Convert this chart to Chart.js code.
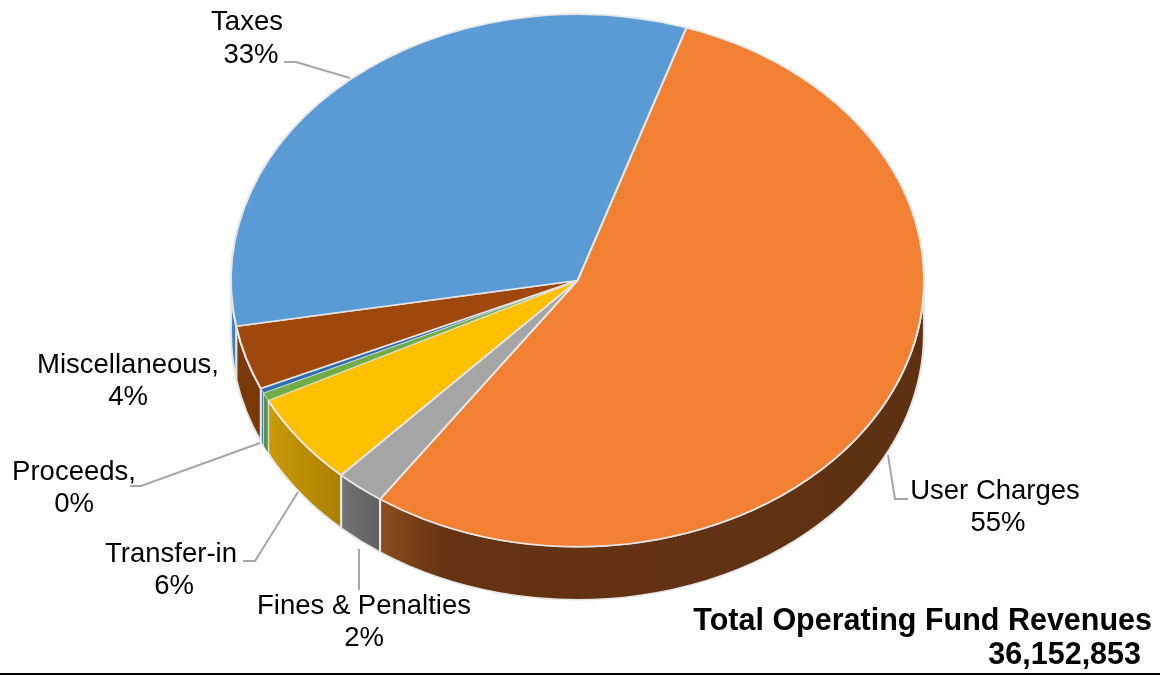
<!DOCTYPE html>
<html>
<head>
<meta charset="utf-8">
<title>Total Operating Fund Revenues</title>
<script src="https://cdn.jsdelivr.net/npm/chart.js@4/dist/chart.umd.min.js"></script>
<style>
    html, body { margin: 0; padding: 0; background: #fff; overflow: hidden; }
    canvas { display: block; }
</style>
</head>
<body>
<canvas id="revenue-chart" width="1160" height="675"></canvas>
<script>
// Данные: доли доходов, по часовой стрелке от границы Taxes / User Charges
const categories = ['User Charges', 'Fines & Penalties', 'Transfer-in', 'Other', 'Proceeds', 'Miscellaneous', 'Taxes'];
const shares = [54.57, 2.3, 5.61, 0.49, 0.3, 3.9, 32.83];
const totalTitle = 'Total Operating Fund Revenues';
const totalAmount = '36,152,853';

const sliceColors = ['#F28033', '#A5A5A5', '#FFC000', '#70AD47', '#2E6DB0', '#9E480E', '#5B9BD5'];
const sliceBorders = [1.6, 1.6, 1.6, 0.6, 0.6, 1.6, 1.6];
// Градиенты боковой стенки, слева направо
const wallColors = [
    [[0, '#8C4C1F'], [0.12, '#653312'], [1, '#5E3113']],
    [[0, '#737373'], [1, '#5F5F5F']],
    [[0, '#C99A08'], [1, '#AB8000']],
    [[0, '#5E9140'], [1, '#5E9140']],
    [[0, '#3F7BB8'], [1, '#3F7BB8']],
    [[0, '#7A3A0C'], [1, '#7A3808']],
    [[0, '#3F7FBD'], [1, '#3F7FBD']]
];

const centerX = 577.5;
const centerY = 280.5;
const radiusX = 347.5;
const radiusY = 267;
const wallDepth = 53;
const stretchX = radiusX / radiusY;
const edgeColor = '#E6E6E6';
const leaderColor = '#A6A6A6';

function percentOf(name) {
    return Math.round(shares[categories.indexOf(name)]) + '%';
}

// Подписи: [текст, x центра, базовая линия]
const sliceLabels = [
    ['Taxes', 247, 30], [percentOf('Taxes'), 251, 63],
    ['Miscellaneous,', 128, 373], [percentOf('Miscellaneous'), 128, 405],
    ['Proceeds,', 74, 480], [percentOf('Proceeds'), 74, 512],
    ['Transfer-in', 171, 562], [percentOf('Transfer-in'), 174, 594],
    ['Fines & Penalties', 364, 614], [percentOf('Fines & Penalties'), 364, 646],
    ['User Charges', 995, 499], [percentOf('User Charges'), 998, 531]
];

// Выноски от подписей к секторам
const leaders = [
    [[284, 62], [296, 62], [350, 78]],
    [[130, 486], [141, 486], [260, 443]],
    [[243, 561], [255, 561], [298, 492]],
    [[359, 549], [359, 590]],
    [[908, 499], [895, 499], [888, 455]]
];

// Боковая стенка и растяжение круга в эллипс
const pieDepthPlugin = {
    id: 'pieDepth',
    beforeDatasetsDraw(chart) {
        const ctx = chart.ctx;
        const arcs = chart.getDatasetMeta(0).data;
        ctx.save();
        ctx.translate(centerX, 0);
        ctx.scale(stretchX, 1);
        ctx.translate(-centerX, 0);

        arcs.forEach((arc, i) => {
            const from = Math.max(arc.startAngle, 0);
            const to = Math.min(arc.endAngle, Math.PI);
            if (to <= from) return;

            const r = arc.outerRadius;
            const left = arc.x + r * Math.cos(to);
            const right = arc.x + r * Math.cos(from);
            const fill = ctx.createLinearGradient(left, 0, right, 0);
            wallColors[i].forEach(stop => fill.addColorStop(stop[0], stop[1]));

            ctx.beginPath();
            ctx.arc(arc.x, arc.y, r, from, to);
            ctx.arc(arc.x, arc.y + wallDepth, r, to, from, true);
            ctx.closePath();
            ctx.fillStyle = fill;
            ctx.fill();
            ctx.strokeStyle = edgeColor;
            ctx.lineWidth = sliceBorders[i];
            ctx.stroke();
        });
    },
    afterDatasetsDraw(chart) {
        chart.ctx.restore();
    },
    afterDraw(chart) {
        const ctx = chart.ctx;
        ctx.save();

        ctx.strokeStyle = leaderColor;
        ctx.lineWidth = 2;
        leaders.forEach(points => {
            ctx.beginPath();
            points.forEach((p, i) => i === 0 ? ctx.moveTo(p[0], p[1]) : ctx.lineTo(p[0], p[1]));
            ctx.stroke();
        });

        ctx.fillStyle = '#000';
        ctx.textBaseline = 'alphabetic';
        ctx.font = '27.5px "Liberation Sans", Arial, sans-serif';
        ctx.textAlign = 'center';
        sliceLabels.forEach(label => ctx.fillText(label[0], label[1], label[2]));

        ctx.font = 'bold 30.5px "Liberation Sans", Arial, sans-serif';
        ctx.textAlign = 'right';
        ctx.fillText(totalTitle, 1152, 630);
        ctx.fillText(totalAmount, 1141, 664);

        // Линия по нижнему краю
        ctx.strokeStyle = '#000';
        ctx.lineWidth = 2;
        ctx.beginPath();
        ctx.moveTo(0, 674);
        ctx.lineTo(1160, 674);
        ctx.stroke();

        ctx.restore();
    }
};

new Chart(document.getElementById('revenue-chart'), {
    type: 'pie',
    data: {
        labels: categories,
        datasets: [{
            data: shares,
            backgroundColor: sliceColors,
            borderColor: edgeColor,
            borderWidth: sliceBorders,
            clip: false
        }]
    },
    options: {
        responsive: false,
        animation: false,
        rotation: 18.3,
        layout: {
            padding: {
                left: centerX - radiusY,
                right: 1160 - centerX - radiusY,
                top: centerY - radiusY,
                bottom: 675 - centerY - radiusY
            }
        },
        plugins: {
            legend: { display: false },
            tooltip: { enabled: false }
        }
    },
    plugins: [pieDepthPlugin]
});
</script>
</body>
</html>
